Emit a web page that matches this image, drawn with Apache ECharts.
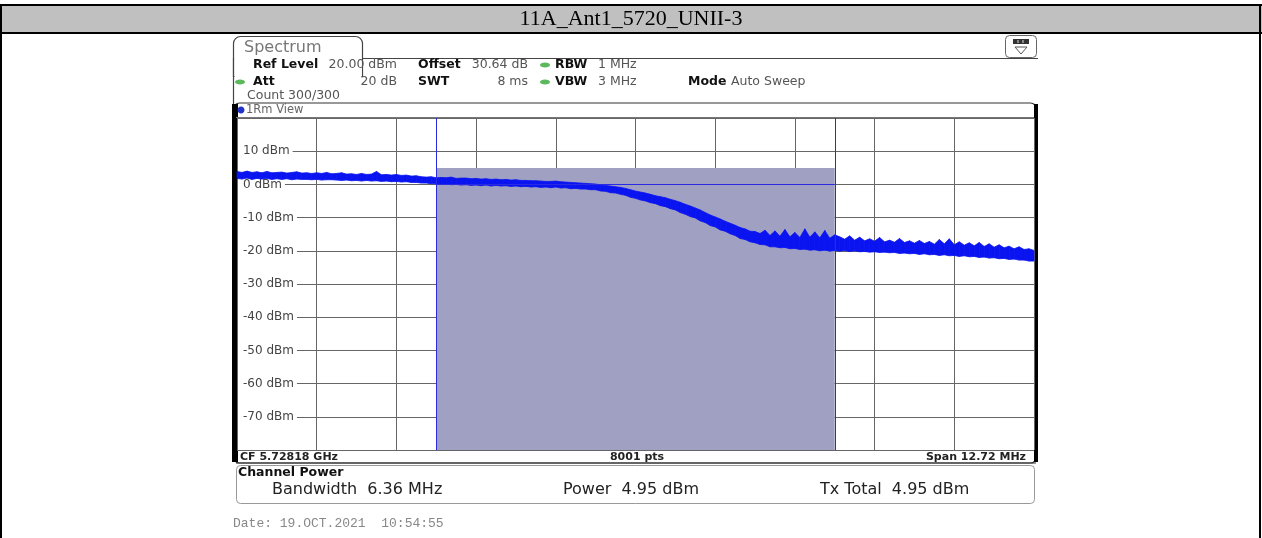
<!DOCTYPE html>
<html>
<head>
<meta charset="utf-8">
<script src="https://cdn.jsdelivr.net/npm/echarts@6/dist/echarts.min.js"></script>
<style>
  html, body { margin: 0; padding: 0; background: #fff; }
  #chart { width: 1262px; height: 538px; }
</style>
</head>
<body>
<div id="chart"></div>
<script>
// 11A_Ant1_5720_UNII-3 channel power screenshot
const titleText = '11A_Ant1_5720_UNII-3';
const spanMHz = 12.72;
const chanBwMHz = 6.36;
const chanPowerDbm = 4.95;
const txLineDbm = 0;
const yMin = -80, yMax = 20, yStep = 10;

// trace envelope (max / min per display column), 161 points across the span, dBm
const traceMax = [
  3.9, 3.6, 4.0, 3.6, 3.8, 3.5, 3.9, 3.5, 3.6, 3.7,
  3.4, 3.6, 3.8, 3.4, 3.5, 3.3, 3.5, 3.3, 3.6, 3.2,
  3.3, 3.5, 3.1, 3.2, 3.0, 3.3, 3.0, 3.1, 3.9, 2.9,
  3.0, 2.8, 3.0, 2.7, 2.8, 2.5, 2.6, 2.3, 2.2, 2.3,
  2.0, 2.1, 2.0, 2.2, 1.8, 1.9, 1.9, 1.7, 1.8, 1.6,
  1.7, 1.5, 1.6, 1.4, 1.5, 1.3, 1.4, 1.2, 1.2, 1.1,
  1.1, 1.0, 0.9, 0.9, 1.0, 0.8, 0.7, 0.6, 0.5, 0.4,
  0.3, 0.2, 0.1, -0.1, -0.3, -0.5, -0.7, -0.9, -1.2, -1.6,
  -2.0, -2.3, -2.6, -3.0, -3.4, -3.7, -4.0, -4.5, -4.9, -5.4,
  -6.0, -6.5, -7.1, -7.7, -8.5, -9.2, -9.8, -10.4, -11.1, -11.7,
  -12.3, -13.0, -13.4, -14.1, -14.2, -14.8, -13.8, -15.4, -14.0, -15.6,
  -13.6, -15.8, -14.5, -16.0, -13.4, -15.9, -14.3, -16.1, -13.9, -16.2,
  -15.2, -15.8, -16.5, -15.5, -16.8, -15.9, -17.0, -16.4, -17.1, -16.0,
  -17.3, -16.8, -17.4, -16.3, -17.5, -17.0, -17.7, -16.9, -17.8, -17.2,
  -18.0, -16.6, -17.9, -16.4, -18.2, -17.3, -18.3, -17.6, -18.5, -17.5,
  -18.7, -17.9, -18.9, -18.2, -19.1, -18.6, -19.4, -18.8, -19.6, -19.4,
  -19.9
];
const traceMin = [
  1.8, 1.6, 1.9, 1.5, 1.8, 1.6, 1.8, 1.5, 1.7, 1.5,
  1.7, 1.4, 1.6, 1.5, 1.5, 1.4, 1.5, 1.3, 1.4, 1.4,
  1.3, 1.2, 1.3, 1.1, 1.2, 1.0, 1.2, 1.0, 1.1, 0.9,
  1.0, 0.8, 0.9, 0.7, 0.8, 0.6, 0.6, 0.4, 0.4, 0.2,
  0.2, 0.0, 0.1, -0.1, 0.0, -0.2, -0.1, -0.3, -0.2, -0.4,
  -0.2, -0.5, -0.3, -0.5, -0.4, -0.6, -0.5, -0.7, -0.6, -0.8,
  -0.7, -0.9, -0.8, -1.0, -0.8, -1.1, -1.0, -1.3, -1.2, -1.4,
  -1.4, -1.6, -1.6, -2.0, -2.1, -2.5, -2.6, -3.0, -3.3, -3.9,
  -4.2, -4.7, -5.0, -5.5, -5.8, -6.4, -6.7, -7.3, -7.7, -8.5,
  -9.0, -9.7, -10.1, -11.0, -11.5, -12.4, -12.8, -13.7, -14.1, -14.9,
  -15.4, -16.3, -16.6, -17.3, -17.6, -18.1, -18.2, -18.8, -18.8, -19.1,
  -19.0, -19.4, -19.3, -19.6, -19.5, -19.8, -19.7, -20.0, -19.8, -20.1,
  -19.9, -20.1, -19.9, -20.2, -20.0, -20.3, -20.2, -20.4, -20.3, -20.5,
  -20.4, -20.6, -20.5, -20.8, -20.7, -20.9, -20.8, -21.1, -20.9, -21.2,
  -21.1, -21.4, -21.2, -21.5, -21.4, -21.7, -21.5, -21.8, -21.7, -22.0,
  -21.9, -22.2, -22.1, -22.4, -22.3, -22.6, -22.5, -22.8, -22.8, -23.1,
  -23.1
];

// instrument readouts
const settingsRow1 = ['Ref Level', '20.00 dBm', 'Offset', '30.64 dB', 'RBW', '1 MHz'];
const settingsRow2 = ['Att', '20 dB', 'SWT', '8 ms', 'VBW', '3 MHz', 'Mode', 'Auto Sweep'];
const countText = 'Count 300/300';
const footerTexts = ['CF 5.72818 GHz', '8001 pts', 'Span 12.72 MHz'];
const chanResults = ['Bandwidth  6.36 MHz', 'Power  4.95 dBm', 'Tx Total  4.95 dBm'];
const dateText = 'Date: 19.OCT.2021  10:54:55';

// x position of every trace point, offset from centre in MHz
const step = spanMHz / (traceMax.length - 1);
const freqMHz = traceMax.map(function (v, i) { return -spanMHz / 2 + i * step; });
const traceData = freqMHz.map(function (f, i) { return [f, traceMin[i], traceMax[i]]; });

const FONT = '"DejaVu Sans"';
const traceBlue = '#0a14f0';

function txt(x, y, text, size, opt) {
  opt = opt || {};
  return {
    type: 'text', x: x, y: y, silent: true,
    style: {
      text: text,
      font: (opt.bold ? 'bold ' : '') + size + 'px ' + (opt.family || FONT),
      fill: opt.color || '#222',
      align: opt.align || 'left',
      verticalAlign: 'middle'
    }
  };
}
function rect(x, y, w, h, fill, stroke, lw, r) {
  return {
    type: 'rect', silent: true,
    shape: { x: x, y: y, width: w, height: h, r: r || 0 },
    style: { fill: fill || 'none', stroke: stroke || 'none', lineWidth: lw || 1 }
  };
}
function line(x1, y1, x2, y2, color, lw) {
  return {
    type: 'line', silent: true,
    shape: { x1: x1, y1: y1, x2: x2, y2: y2 },
    style: { stroke: color, lineWidth: lw || 1 }
  };
}
function dot(cx, cy, rx, ry, color) {
  return {
    type: 'ellipse', silent: true,
    shape: { cx: cx, cy: cy, rx: rx, ry: ry },
    style: { fill: color }
  };
}

// one filled quad between trace point i and i+1 (min..max envelope)
function renderTrace(params, api) {
  const i = params.dataIndex;
  if (i >= traceData.length - 1) return null;
  const next = traceData[i + 1];
  const a = api.coord([api.value(0), api.value(2)]);
  const b = api.coord([next[0], next[2]]);
  const c = api.coord([next[0], next[1]]);
  const d = api.coord([api.value(0), api.value(1)]);
  return {
    type: 'polygon',
    shape: { points: [a, b, c, d] },
    style: { fill: traceBlue, stroke: traceBlue, lineWidth: 0.8 }
  };
}

const headGrey = '#555';
const graphics = [
  // table around the screenshot
  rect(0, 4, 1262, 2, '#000'),
  rect(0, 6, 1262, 26, '#c0c0c0'),
  rect(0, 32, 1262, 2, '#000'),
  rect(0, 4, 2, 534, '#000'),
  rect(1259, 4, 2, 534, '#000'),
  txt(631, 19, titleText, 22, { family: '"Liberation Serif"', color: '#000', align: 'center' }),

  // Spectrum tab and icon
  line(362, 58.5, 1038, 58.5, '#444', 1.2),
  rect(233.5, 36.5, 129, 40, '#fff', '#444', 1.2, [7, 7, 0, 0]),
  rect(234.5, 59, 127, 20, '#fff'),
  line(233.5, 58, 233.5, 104, '#444', 1.2),
  txt(244, 48, 'Spectrum', 16, { color: '#777' }),
  rect(1005.5, 35.5, 31, 22, '#fff', '#666', 1, 4),
  rect(1013, 39, 16, 5, '#333'),
  rect(1017.5, 40, 1, 3, '#ddd'),
  rect(1022.5, 40, 1, 3, '#ddd'),
  { type: 'polygon', silent: true, shape: { points: [[1015, 47], [1027, 47], [1021, 54]] }, style: { fill: '#fff', stroke: '#555', lineWidth: 1 } },

  // settings readout
  txt(253, 65, settingsRow1[0], 12.5, { bold: true, color: '#111' }),
  txt(397, 65, settingsRow1[1], 12.5, { color: headGrey, align: 'right' }),
  txt(418, 65, settingsRow1[2], 12.5, { bold: true, color: '#111' }),
  txt(528, 65, settingsRow1[3], 12.5, { color: headGrey, align: 'right' }),
  dot(545, 65, 5, 2.5, '#5cb85c'),
  txt(555, 65, settingsRow1[4], 12.5, { bold: true, color: '#111' }),
  txt(598, 65, settingsRow1[5], 12.5, { color: headGrey }),

  dot(240, 82, 5, 2.5, '#5cb85c'),
  txt(253, 82, settingsRow2[0], 12.5, { bold: true, color: '#111' }),
  txt(397, 82, settingsRow2[1], 12.5, { color: headGrey, align: 'right' }),
  txt(418, 82, settingsRow2[2], 12.5, { bold: true, color: '#111' }),
  txt(528, 82, settingsRow2[3], 12.5, { color: headGrey, align: 'right' }),
  dot(545, 82, 5, 2.5, '#5cb85c'),
  txt(555, 82, settingsRow2[4], 12.5, { bold: true, color: '#111' }),
  txt(598, 82, settingsRow2[5], 12.5, { color: headGrey }),
  txt(688, 82, settingsRow2[6], 12.5, { bold: true, color: '#111' }),
  txt(731, 82, settingsRow2[7], 12.5, { color: headGrey }),
  txt(247, 96, countText, 12.5, { color: headGrey }),

  // 1Rm view window
  rect(233.5, 103, 803, 360, 'none', '#333', 1.2, 6),
  rect(232, 104, 6, 358, '#000'),
  rect(1034, 104, 4, 358, '#000'),
  line(236, 117.5, 1034, 117.5, '#777', 1),
  dot(241, 110, 3.5, 3.5, '#2233cc'),
  txt(246, 110, '1Rm View', 11.5, { color: '#666' }),

  // footer bar
  line(236, 463, 1036, 463, '#333', 1.2),
  txt(240, 457, footerTexts[0], 11, { bold: true, color: '#222' }),
  txt(637, 457, footerTexts[1], 11, { bold: true, color: '#222', align: 'center' }),
  txt(1026, 457, footerTexts[2], 11, { bold: true, color: '#222', align: 'right' }),

  // channel power table
  rect(236.5, 465.5, 798, 38, '#fff', '#999', 1, 4),
  txt(238, 473, 'Channel Power', 12.5, { bold: true, color: '#111' }),
  txt(272, 490, chanResults[0], 16, { color: '#222' }),
  txt(563, 490, chanResults[1], 16, { color: '#222' }),
  txt(820, 490, chanResults[2], 16, { color: '#222' }),

  txt(233, 524, dateText, 13, { family: '"Liberation Mono"', color: '#888' }),

  // faint TX1 marker tag
  txt(627, 188, 'TX1', 10, { color: '#c4c4dc' })
];

const myChart = echarts.init(document.getElementById('chart'));
myChart.setOption({
  animation: false,
  backgroundColor: '#fff',
  grid: { left: 237, top: 118, width: 797, height: 332 },
  xAxis: {
    type: 'value',
    min: -spanMHz / 2,
    max: spanMHz / 2,
    interval: spanMHz / 10,
    axisLine: { show: false },
    axisTick: { show: false },
    axisLabel: { show: false },
    splitLine: { show: true, lineStyle: { color: '#666', width: 1 } }
  },
  yAxis: {
    type: 'value',
    min: yMin,
    max: yMax,
    interval: yStep,
    axisLine: { show: false },
    axisTick: { show: false },
    splitLine: { show: true, lineStyle: { color: '#666', width: 1 } },
    axisLabel: {
      inside: true,
      margin: 1,
      showMinLabel: false,
      showMaxLabel: false,
      color: '#444',
      fontFamily: 'DejaVu Sans',
      fontSize: 12,
      backgroundColor: '#fff',
      padding: [1, 3, 1, 5],
      formatter: function (v) { return v + ' dBm'; }
    }
  },
  series: [
    {
      // channel bandwidth shading and channel lines
      type: 'line',
      z: 1,
      data: [],
      markArea: {
        silent: true,
        itemStyle: { color: '#a0a0c3', opacity: 1 },
        data: [[{ xAxis: -chanBwMHz / 2, yAxis: yMin }, { xAxis: chanBwMHz / 2, yAxis: chanPowerDbm }]]
      },
      markLine: {
        silent: true,
        symbol: 'none',
        label: { show: false },
        lineStyle: { color: '#2a2ae0', width: 1, type: 'solid' },
        data: [
          { xAxis: -chanBwMHz / 2 },
          { xAxis: chanBwMHz / 2 },
          [{ coord: [-chanBwMHz / 2, txLineDbm] }, { coord: [chanBwMHz / 2, txLineDbm] }]
        ]
      }
    },
    {
      name: '1Rm',
      type: 'custom',
      z: 3,
      silent: true,
      renderItem: renderTrace,
      encode: { x: 0, y: [1, 2] },
      data: traceData
    }
  ],
  graphic: graphics
});
</script>
</body>
</html>
